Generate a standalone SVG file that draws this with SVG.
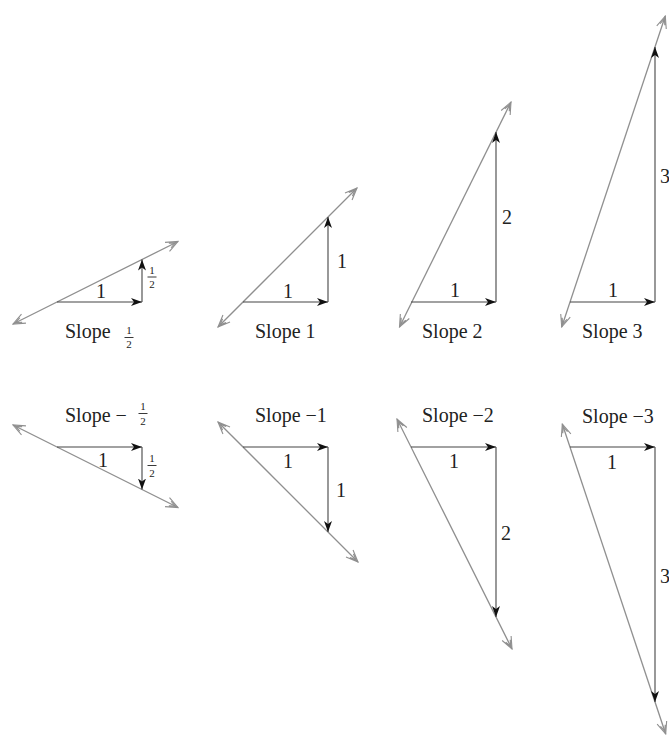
<svg xmlns="http://www.w3.org/2000/svg" width="669" height="739" viewBox="0 0 669 739">
<style>
.bg{fill:#fff}
.diag{stroke:#8f8f8f;stroke-width:1.3;fill:none;marker-start:url(#open);marker-end:url(#open)}
.leg{stroke:#444;stroke-width:1.1;fill:none;marker-end:url(#solid)}
.t{font-family:"Liberation Serif","Times New Roman",serif;font-size:20px;fill:#222}
.f{font-family:"Liberation Serif","Times New Roman",serif;font-size:11px;fill:#222;text-anchor:middle}
.c{text-anchor:middle}
.bar{stroke:#222;stroke-width:0.9}
</style>
<defs>
<marker id="open" markerUnits="userSpaceOnUse" markerWidth="14" markerHeight="12" viewBox="0 0 14 12" refX="13" refY="6" orient="auto-start-reverse">
<path d="M1,1 L13,6 L1,11 M4,3.5 L10,6 L4,8.5" fill="none" stroke="#8f8f8f" stroke-width="1.1"/>
</marker>
<marker id="solid" markerUnits="userSpaceOnUse" markerWidth="12" markerHeight="10" viewBox="0 0 12 10" refX="11" refY="5" orient="auto">
<path d="M0,1 L11,5 L0,9 L3,5 z" fill="#111"/>
</marker>
</defs>
<rect class="bg" x="0" y="0" width="669" height="739"/>

<g id="connectors">
<line class="diag" x1="13" y1="324" x2="178" y2="241.5"/>
<line class="diag" x1="218" y1="327" x2="357" y2="188"/>
<line class="diag" x1="399.5" y1="327" x2="511" y2="102"/>
<line class="diag" x1="561.7" y1="327" x2="665.3" y2="16"/>
<line class="leg" x1="57" y1="302" x2="142" y2="302"/>
<line class="leg" x1="142" y1="302" x2="142" y2="259.5"/>
<line class="leg" x1="243" y1="302" x2="328" y2="302"/>
<line class="leg" x1="328" y1="302" x2="328" y2="217"/>
<line class="leg" x1="411" y1="302" x2="496" y2="302"/>
<line class="leg" x1="496" y1="302" x2="496" y2="132"/>
<line class="leg" x1="570" y1="302" x2="655" y2="302"/>
<line class="leg" x1="655" y1="302" x2="655" y2="47"/>
<line class="diag" x1="13" y1="425" x2="178" y2="507.5"/>
<line class="diag" x1="218" y1="422" x2="358" y2="562"/>
<line class="diag" x1="397" y1="419" x2="512" y2="649"/>
<line class="diag" x1="562.3" y1="424" x2="665.7" y2="734"/>
<line class="leg" x1="57" y1="447" x2="142" y2="447"/>
<line class="leg" x1="142" y1="447" x2="142" y2="489.5"/>
<line class="leg" x1="243" y1="447" x2="328" y2="447"/>
<line class="leg" x1="328" y1="447" x2="328" y2="532"/>
<line class="leg" x1="411" y1="447" x2="496" y2="447"/>
<line class="leg" x1="496" y1="447" x2="496" y2="617"/>
<line class="leg" x1="570" y1="447" x2="655" y2="447"/>
<line class="leg" x1="655" y1="447" x2="655" y2="702"/>
</g>

<g id="slope-half">
<text class="t c" x="101" y="298">1</text>
<text class="f" x="152" y="274">1</text>
<line class="bar" x1="147.5" y1="277" x2="156.5" y2="277"/>
<text class="f" x="152" y="288">2</text>
<text class="t" x="65" y="338">Slope</text>
<text class="f" x="129" y="334">1</text>
<line class="bar" x1="124.5" y1="337.5" x2="133.5" y2="337.5"/>
<text class="f" x="129" y="348">2</text>
</g>

<g id="slope-1">
<text class="t c" x="288" y="298">1</text>
<text class="t c" x="342" y="268">1</text>
<text class="t" x="255" y="338">Slope 1</text>
</g>

<g id="slope-2">
<text class="t c" x="455" y="297">1</text>
<text class="t c" x="507" y="224">2</text>
<text class="t" x="422" y="338">Slope 2</text>
</g>

<g id="slope-3">
<text class="t c" x="613" y="297">1</text>
<text class="t c" x="665" y="183">3</text>
<text class="t" x="582" y="338">Slope 3</text>
</g>

<g id="slope-neg-half">
<text class="t" x="65" y="422">Slope −</text>
<text class="f" x="143" y="410">1</text>
<line class="bar" x1="138.5" y1="413.5" x2="147.5" y2="413.5"/>
<text class="f" x="143" y="425">2</text>
<text class="t c" x="103" y="467">1</text>
<text class="f" x="152" y="462">1</text>
<line class="bar" x1="147.5" y1="465.5" x2="156.5" y2="465.5"/>
<text class="f" x="152" y="477">2</text>
</g>

<g id="slope-neg-1">
<text class="t" x="255" y="422">Slope −1</text>
<text class="t c" x="288" y="468">1</text>
<text class="t c" x="341" y="497">1</text>
</g>

<g id="slope-neg-2">
<text class="t" x="422" y="422">Slope −2</text>
<text class="t c" x="454" y="468">1</text>
<text class="t c" x="506" y="540">2</text>
</g>

<g id="slope-neg-3">
<text class="t" x="582" y="423">Slope −3</text>
<text class="t c" x="612" y="469">1</text>
<text class="t c" x="665" y="583">3</text>
</g>
</svg>
